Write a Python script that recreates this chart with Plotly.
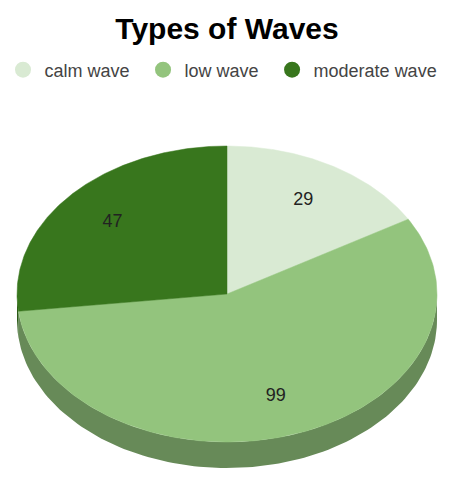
import numpy as np
import plotly.graph_objects as go

# data
categories = ["calm wave", "low wave", "moderate wave"]
values = [29, 99, 47]
colors = ["#d9ead3", "#93c47d", "#38761d"]
side_colors = ["#a9b8a3", "#678a58", "#2a5a16"]

# pie geometry (screen pixel units)
cx, cy = 227, 294
rx, ry = 210, 148
depth = 26
label_r = 0.73

# page body has an 8px margin, so the figure is a bit smaller than the window
W, H, OFF = 459, 480, 8

def pt(theta_deg, r=1.0):
    t = np.radians(theta_deg)
    return cx + rx * r * np.sin(t), cy - ry * r * np.cos(t)

total = sum(values)
angles = np.cumsum([0] + [v / total * 360 for v in values])

fig = go.Figure()

# side walls (front half only, 90..270 deg)
for i in range(len(values)):
    a0, a1 = max(angles[i], 90), min(angles[i + 1], 270)
    if a1 <= a0:
        continue
    th = np.linspace(a0, a1, 120)
    xs, ys = pt(th)
    px_ = np.concatenate([xs, xs[::-1]])
    py_ = np.concatenate([ys, ys[::-1] + depth])
    fig.add_trace(go.Scatter(x=px_, y=py_, fill="toself", mode="lines",
                             line=dict(width=0, color=side_colors[i]),
                             fillcolor=side_colors[i], showlegend=False, hoverinfo="skip"))

# top faces
for i in range(len(values)):
    th = np.linspace(angles[i], angles[i + 1], 200)
    xs, ys = pt(th)
    fig.add_trace(go.Scatter(x=np.concatenate([[cx], xs, [cx]]), y=np.concatenate([[cy], ys, [cy]]),
                             fill="toself", mode="lines",
                             line=dict(width=0.5, color=colors[i]),
                             fillcolor=colors[i], showlegend=False, hoverinfo="skip"))

# value labels
for i in range(len(values)):
    mid = (angles[i] + angles[i + 1]) / 2
    lx, ly = pt(mid, label_r)
    fig.add_trace(go.Scatter(x=[lx], y=[ly], mode="text", text=[str(values[i])],
                             textfont=dict(size=18, color="#222222", family="Liberation Sans, Arial"),
                             showlegend=False, hoverinfo="skip"))

# legend entries (hair/en spaces to widen the gaps a little)
for i in range(len(values)):
    pad = "\u2002\u2005" if i < len(values) - 1 else ""
    fig.add_trace(go.Scatter(x=[None], y=[None], mode="markers", name="\u200a" + categories[i] + pad,
                             marker=dict(size=18, color=colors[i], symbol="circle")))

fh = H - OFF
fig.update_layout(
    width=W - OFF, height=fh,
    margin=dict(l=0, r=0, t=0, b=0, autoexpand=False),
    paper_bgcolor="white", plot_bgcolor="white",
    title=dict(text="<b>Types of Waves</b>", x=(227 - OFF) / (W - OFF), xanchor="center",
               y=1 - (28 - OFF) / fh, yanchor="middle",
               font=dict(size=30, color="#000000", family="Liberation Sans, Arial")),
    legend=dict(orientation="h", x=0, xanchor="left", y=1 - (70 - OFF) / fh, yanchor="middle",
                indentation=-5,
                font=dict(size=18, color="#444444", family="Liberation Sans, Arial"),
                bgcolor="rgba(0,0,0,0)"),
    xaxis=dict(range=[OFF, W], visible=False, fixedrange=True),
    yaxis=dict(range=[H, OFF], visible=False, fixedrange=True),
    hovermode=False,
)

fig.write_html("out.html")
